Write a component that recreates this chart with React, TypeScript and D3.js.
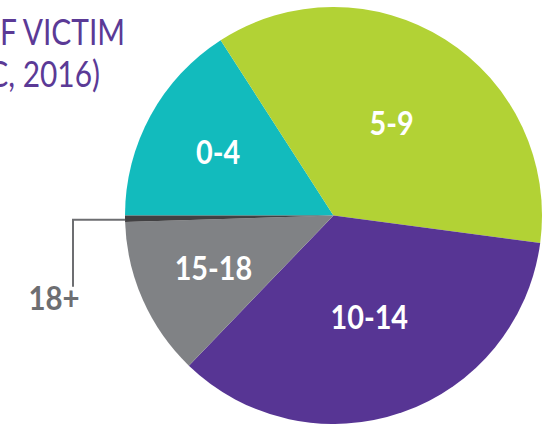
import React, { useEffect, useRef } from "react";
import * as d3 from "d3";

// age groups and share of victims (%)
const ageGroups = ["0-4", "5-9", "10-14", "15-18", "18+"];
const shares = [15.9, 36.2, 35.1, 12.3, 0.5];
const sliceColors = ["#12BBBD", "#B2D235", "#573594", "#808285", "#414042"];
const titleLines = ["AGE OF VICTIM", "(NCMEC, 2016)"];

const W = 548;
const H = 424;

export default function App() {
  const svgRef = useRef<SVGSVGElement>(null);

  useEffect(() => {
    const svg = d3.select(svgRef.current);
    svg.selectAll("*").remove();

    const cx = 333.5;
    const cy = 215.5;
    const radius = 208.5;
    const data = ageGroups.map((g, i) => ({ group: g, value: shares[i], color: sliceColors[i] }));

    const pie = d3
      .pie<any>()
      .sort(null)
      .startAngle(-Math.PI / 2)
      .endAngle((3 * Math.PI) / 2)
      .value((d) => d.value);

    const arc = d3.arc<any>().innerRadius(0).outerRadius(radius);
    const total = d3.sum(shares);

    const g = svg.append("g").attr("transform", `translate(${cx},${cy})`);
    const arcs = pie(data);

    g.selectAll("path")
      .data(arcs)
      .enter()
      .append("path")
      .attr("d", arc)
      .attr("fill", (d) => d.data.color);

    // labels inside the bigger slices
    const inside = arcs.filter((d) => d.data.value / total > 0.05);
    g.selectAll(".lbl")
      .data(inside)
      .enter()
      .append("g")
      .attr("class", "lbl")
      .attr("transform", (d) => {
        const r = d.data.value / total > 0.3 ? radius * 0.52 : radius * 0.63;
        const [x, y] = d3.arc<any>().innerRadius(r).outerRadius(r).centroid(d);
        return `translate(${x},${y}) scale(0.9,1)`;
      })
      .append("text")
      .attr("text-anchor", "middle")
      .attr("dy", "0.36em")
      .attr("fill", "#ffffff")
      .style("font-family", "Lato, sans-serif")
      .style("font-weight", "bold")
      .style("font-size", "32px")
      .text((d) => d.data.group);

    // leader line for the tiny slice
    const small = arcs.filter((d) => d.data.value / total <= 0.05);
    small.forEach((d) => {
      const mid = (d.startAngle + d.endAngle) / 2;
      const px = Math.sin(mid) * radius;
      const py = -Math.cos(mid) * radius + 1;
      const elbowX = -radius - 52;
      g.append("path")
        .attr("d", `M${px},${py}H${elbowX}V${py + 67}`)
        .attr("fill", "none")
        .attr("stroke", "#6D6E71")
        .attr("stroke-width", 2);
      g.append("g")
        .attr("transform", `translate(${elbowX - 19},${py + 90}) scale(0.92,1)`)
        .append("text")
        .attr("text-anchor", "middle")
        .attr("fill", "#6D6E71")
        .style("font-family", "Lato, sans-serif")
        .style("font-weight", "bold")
        .style("font-size", "32px")
        .text(d.data.group);
    });

    // title, cut off at the left edge
    const titleEnds = [125, 100];
    const titleBase = [45, 87];
    titleLines.forEach((t, i) => {
      svg
        .append("g")
        .attr("transform", `translate(${titleEnds[i]},${titleBase[i]}) scale(0.83,1)`)
        .append("text")
        .attr("text-anchor", "end")
        .attr("fill", "#5B3A96")
        .style("font-family", "Lato, sans-serif")
        .style("font-size", "36px")
        .text(t);
    });
  }, []);

  return (
    <svg
      ref={svgRef}
      width={W}
      height={H}
      style={{ position: "absolute", left: 0, top: 0, background: "#ffffff" }}
    />
  );
}
